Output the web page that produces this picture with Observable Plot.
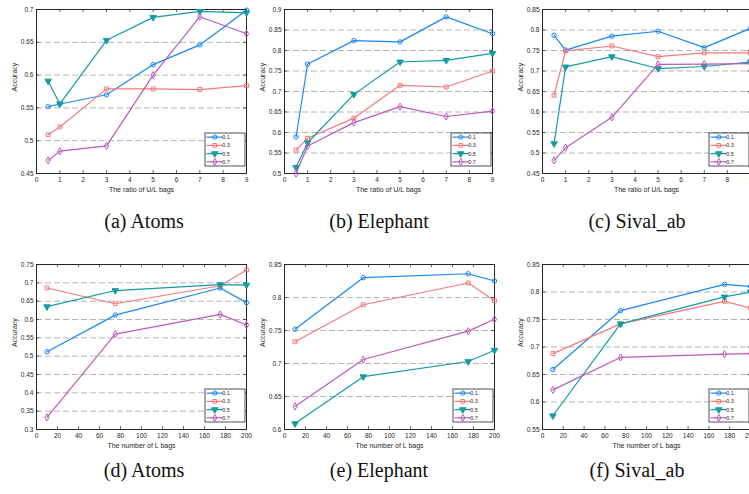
<!DOCTYPE html>
<html>
<head>
<meta charset="utf-8">
<script src="https://cdn.jsdelivr.net/npm/d3@7"></script>
<script src="https://cdn.jsdelivr.net/npm/@observablehq/plot@0.6"></script>
<style>
  body { margin: 0; background: #fff; }
  #root { position: relative; width: 749px; height: 494px; overflow: hidden; background: #fff;
          font-family: "Liberation Sans", Arial, sans-serif; }
  .panel { position: absolute; }
  .cap { position: absolute; transform: translateX(-50%); white-space: nowrap;
         font-family: "Liberation Serif", "DejaVu Serif", serif; font-size: 20px; color: #111; line-height: 1; }
</style>
</head>
<body>
<div id="root"></div>
<script>
// ---------- data ----------
const seriesNames = ["0.1", "0.3", "0.5", "0.7"];
const seriesColors = ["#1a86f4", "#f47a7a", "#149ca2", "#bb59bf"];
const seriesSymbols = ["circle", "square", "triangle", "diamond"];

const ratioX = [0.5, 1, 3, 5, 7, 9];
const numberX = [10, 75, 175, 200];

const ratioTicks = [0, 1, 2, 3, 4, 5, 6, 7, 8, 9];
const numberTicks = [0, 20, 40, 60, 80, 100, 120, 140, 160, 180, 200];

const atomsRatioTicksY = [0.45, 0.5, 0.55, 0.6, 0.65, 0.7];
const elephantRatioTicksY = [0.5, 0.55, 0.6, 0.65, 0.7, 0.75, 0.8, 0.85, 0.9];
const sivalRatioTicksY = [0.45, 0.5, 0.55, 0.6, 0.65, 0.7, 0.75, 0.8, 0.85];
const atomsNumberTicksY = [0.3, 0.35, 0.4, 0.45, 0.5, 0.55, 0.6, 0.65, 0.7, 0.75];
const elephantNumberTicksY = [0.6, 0.65, 0.7, 0.75, 0.8, 0.85];
const sivalNumberTicksY = [0.55, 0.6, 0.65, 0.7, 0.75, 0.8, 0.85];

// series order: 0.1, 0.3, 0.5, 0.7
const atomsRatio = [
  [0.552, 0.556, 0.570, 0.616, 0.646, 0.699],
  [0.509, 0.521, 0.579, 0.579, 0.578, 0.584],
  [0.591, 0.556, 0.653, 0.688, 0.697, 0.695],
  [0.470, 0.484, 0.492, 0.600, 0.689, 0.663]
];
const elephantRatio = [
  [0.589, 0.767, 0.824, 0.821, 0.882, 0.841],
  [0.557, 0.586, 0.635, 0.715, 0.711, 0.750],
  [0.515, 0.575, 0.693, 0.772, 0.776, 0.793],
  [0.500, 0.567, 0.624, 0.663, 0.639, 0.652]
];
const sivalRatio = [
  [0.787, 0.751, 0.785, 0.797, 0.757, 0.804],
  [0.641, 0.749, 0.761, 0.735, 0.744, 0.744],
  [0.523, 0.710, 0.735, 0.706, 0.711, 0.722],
  [0.482, 0.513, 0.587, 0.716, 0.717, 0.718]
];
const atomsNumber = [
  [0.512, 0.612, 0.686, 0.646],
  [0.686, 0.643, 0.692, 0.735],
  [0.635, 0.679, 0.695, 0.694],
  [0.333, 0.560, 0.614, 0.585]
];
const elephantNumber = [
  [0.752, 0.830, 0.836, 0.825],
  [0.733, 0.789, 0.822, 0.795],
  [0.609, 0.680, 0.703, 0.720],
  [0.635, 0.706, 0.749, 0.767]
];
const sivalNumber = [
  [0.659, 0.766, 0.814, 0.810],
  [0.688, 0.742, 0.783, 0.771],
  [0.575, 0.742, 0.791, 0.800],
  [0.622, 0.681, 0.687, 0.688]
];

const captions = ["(a) Atoms", "(b) Elephant", "(c) Sival_ab", "(d) Atoms", "(e) Elephant", "(f) Sival_ab"];
const ratioLabel = "The ratio of U/L bags";
const numberLabel = "The number of L bags";
const yLabel = "Accuracy";

// ---------- drawing ----------
const root = document.getElementById("root");
const ink = "#262626";
const fmt = d => String(+d.toFixed(2));

function panel(cfg) {
  const { left, top, width, height, ml, mr, mt, mb, xs, values, xTicks, yTicks, xLabel } = cfg;
  const data = [];
  values.forEach((vals, si) => vals.forEach((v, i) => data.push({ x: xs[i], y: v, s: seriesNames[si] })));
  const iw = width - ml - mr, ih = height - mt - mb;
  const xDomain = [xTicks[0], xTicks[xTicks.length - 1]];
  const yDomain = [yTicks[0], yTicks[yTicks.length - 1]];
  const marks = [
    Plot.ruleY(yTicks.filter(t => t !== yDomain[0] && t !== yDomain[1]),
      { y: d => d, stroke: "#b4b4b4", strokeWidth: 1, strokeDasharray: "6,3" }),
    Plot.tickX(xTicks, { x: d => d, insetTop: ih - 3, stroke: ink, strokeWidth: 0.7 }),
    Plot.tickX(xTicks, { x: d => d, insetBottom: ih - 3, stroke: ink, strokeWidth: 0.7 }),
    Plot.tickY(yTicks, { y: d => d, insetRight: iw - 3, stroke: ink, strokeWidth: 0.7 }),
    Plot.tickY(yTicks, { y: d => d, insetLeft: iw - 3, stroke: ink, strokeWidth: 0.7 }),
    Plot.frame({ stroke: ink, strokeWidth: 1 }),
    Plot.axisX({ ticks: xTicks, tickSize: 0, tickPadding: 4, fontSize: 6.5, fill: ink, tickFormat: fmt, label: null }),
    Plot.axisY({ ticks: yTicks, tickSize: 0, tickPadding: 3, fontSize: 6.5, fill: ink, tickFormat: fmt, label: null }),
    Plot.text([xLabel], { frameAnchor: "bottom", dy: 18.5, fontSize: 7, fill: ink }),
    Plot.text([yLabel], { frameAnchor: "left", rotate: -90, dx: -21.5, fontSize: 7, fill: ink })
  ];
  seriesNames.forEach((name, si) => {
    const rows = data.filter(d => d.s === name);
    marks.push(Plot.line(rows, { x: "x", y: "y", stroke: seriesColors[si], strokeWidth: 1.2 }));
    const tri = seriesSymbols[si] === "triangle";
    marks.push(Plot.dot(rows, {
      x: "x", y: "y", symbol: seriesSymbols[si], r: tri ? 2.4 : 2.2,
      rotate: tri ? 180 : 0,
      stroke: seriesColors[si], strokeWidth: 1,
      fill: tri ? seriesColors[si] : "none"
    }));
  });
  const chart = Plot.plot({
    width, height, marginLeft: ml, marginRight: mr, marginTop: mt, marginBottom: mb,
    x: { domain: xDomain, label: null },
    y: { domain: yDomain, label: null },
    style: { background: "transparent", fontFamily: "'Liberation Sans', Arial, sans-serif", overflow: "visible" },
    marks
  });
  chart.classList.add("panel");
  chart.style.left = left + "px";
  chart.style.top = top + "px";
  root.appendChild(chart);

  // legend box (bottom-right inside the axes)
  const svg = d3.select(chart);
  const bw = 40, bh = 33;
  const bx = width - mr - 1 - bw, by = height - mb - 7 - bh;
  const g = svg.append("g").attr("transform", `translate(${bx},${by})`);
  g.append("rect").attr("width", bw).attr("height", bh).attr("fill", "#fff").attr("stroke", ink).attr("stroke-width", 0.8);
  const rowH = bh / 4;
  const symMap = { circle: d3.symbolCircle, square: d3.symbolSquare, triangle: d3.symbolTriangle, diamond: d3.symbolDiamond };
  seriesNames.forEach((name, si) => {
    const cy = rowH * (si + 0.5);
    g.append("line").attr("x1", 1.5).attr("x2", 18).attr("y1", cy).attr("y2", cy)
      .attr("stroke", seriesColors[si]).attr("stroke-width", 1.2);
    const tri = seriesSymbols[si] === "triangle";
    g.append("path").attr("d", d3.symbol(symMap[seriesSymbols[si]], tri ? 18 : 14)())
      .attr("transform", `translate(9.75,${cy})${tri ? " rotate(180)" : ""}`)
      .attr("fill", tri ? seriesColors[si] : "none").attr("stroke", seriesColors[si]).attr("stroke-width", 1);
    g.append("text").attr("x", 21).attr("y", cy).attr("dy", "0.35em")
      .attr("font-size", 5.5).attr("fill", ink).text(name);
  });
}

const topRow = { top: 0, height: 200, mt: 9, mb: 27 };
const botRow = { top: 250, height: 206, mt: 14, mb: 27 };

panel({ ...topRow, left: 0, width: 250, ml: 36, mr: 4, xs: ratioX, values: atomsRatio, xTicks: ratioTicks, yTicks: atomsRatioTicksY, xLabel: ratioLabel });
panel({ ...topRow, left: 250, width: 250, ml: 34, mr: 8, xs: ratioX, values: elephantRatio, xTicks: ratioTicks, yTicks: elephantRatioTicksY, xLabel: ratioLabel });
panel({ ...topRow, left: 500, width: 260, ml: 42, mr: 10, xs: ratioX, values: sivalRatio, xTicks: ratioTicks, yTicks: sivalRatioTicksY, xLabel: ratioLabel });
panel({ ...botRow, left: 0, width: 250, ml: 36, mr: 4, xs: numberX, values: atomsNumber, xTicks: numberTicks, yTicks: atomsNumberTicksY, xLabel: numberLabel });
panel({ ...botRow, left: 250, width: 250, ml: 34, mr: 6, xs: numberX, values: elephantNumber, xTicks: numberTicks, yTicks: elephantNumberTicksY, xLabel: numberLabel });
panel({ ...botRow, left: 500, width: 260, ml: 42, mr: 10, xs: numberX, values: sivalNumber, xTicks: numberTicks, yTicks: sivalNumberTicksY, xLabel: numberLabel });

// captions
const capPos = [[144, 211], [379, 211], [637, 211], [144, 460], [379, 460], [637, 460]];
captions.forEach((c, i) => {
  const d = document.createElement("div");
  d.className = "cap";
  d.textContent = c;
  d.style.left = capPos[i][0] + "px";
  d.style.top = capPos[i][1] + "px";
  root.appendChild(d);
});
</script>
</body>
</html>
